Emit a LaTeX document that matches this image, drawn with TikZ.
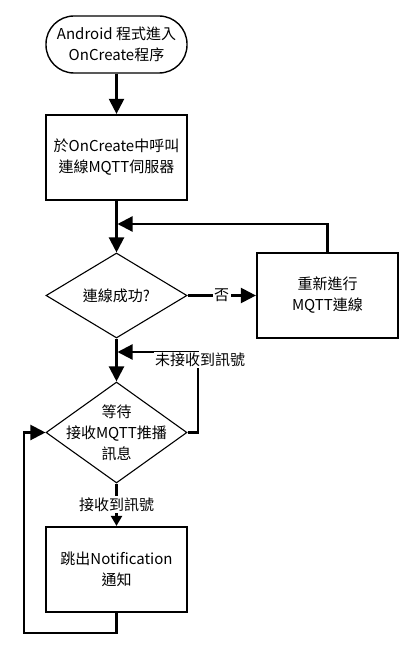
\documentclass[tikz,border=0pt]{standalone}
\usepackage{fontspec}
\setmainfont{Noto Sans CJK TC}
\usetikzlibrary{shapes.geometric,arrows.meta}
\begin{document}
\begin{tikzpicture}[x=1pt,y=-1pt,
  every node/.style={font=\fontsize{15}{21}\selectfont, align=center, inner sep=0pt},
  term/.style={draw, line width=1.4pt, rounded corners=28pt, minimum width=141pt, minimum height=57pt},
  procbox/.style={draw, line width=2.2pt, minimum width=141pt, minimum height=85pt},
  decision/.style={draw, diamond, line width=1.1pt, minimum width=141pt, minimum height=85pt},
  conn/.style={line width=2.2pt, -{Triangle[length=15pt,width=15pt]}},
  lbl/.style={fill=white, inner sep=1.5pt}
]
\useasboundingbox (0,0) rectangle (414,650);

\node[term] (start) at (116.5,44.5) {Android 程式進入\\OnCreate程序};
\node[procbox] (b1) at (116.5,157.5) {於OnCreate中呼叫\\連線MQTT伺服器};
\node[decision] (d1) at (116.5,295.5) {};
\node at (d1.center) (d1t) {連線成功?};
\node[procbox] (b2) at (327.5,295.5) {重新進行\\MQTT連線};
\node[decision, minimum height=101pt] (d2) at (116.5,432.5) {};
\node at (d2.center) (d2t) {等待\\接收MQTT推播\\訊息};
\node[procbox] (b3) at (116.5,569.5) {跳出Notification\\通知};

\coordinate (j1) at (116.5,224);
\coordinate (j2) at (116.5,352);
\coordinate (c1) at (198,352);
\coordinate (c2) at (116.5,633);
\coordinate (c3) at (24,633);

\draw[conn] (start.south) -- (b1.north);
\draw[conn] (b1.south) -- (d1.north);
\draw[conn] (d1.east) -- node[lbl] (no) {否} (b2.west);
\draw[conn, shorten >=1pt] (b2.north) |- (j1);
\draw[conn] (d1.south) -- (d2.north);
\draw[conn, shorten >=1pt] (d2.east) -| (c1) -- (j2);
\node[lbl] (nr) at (200,360) {未接收到訊號};
\draw[line width=2.2pt, -{Triangle[length=10pt,width=11pt]}] (d2.south) -- node[lbl, pos=0.5] (rc) {接收到訊號} (b3.north);
\draw[conn] (b3.south) -- (c2) -- (c3) |- (d2.west);
\end{tikzpicture}
\end{document}
